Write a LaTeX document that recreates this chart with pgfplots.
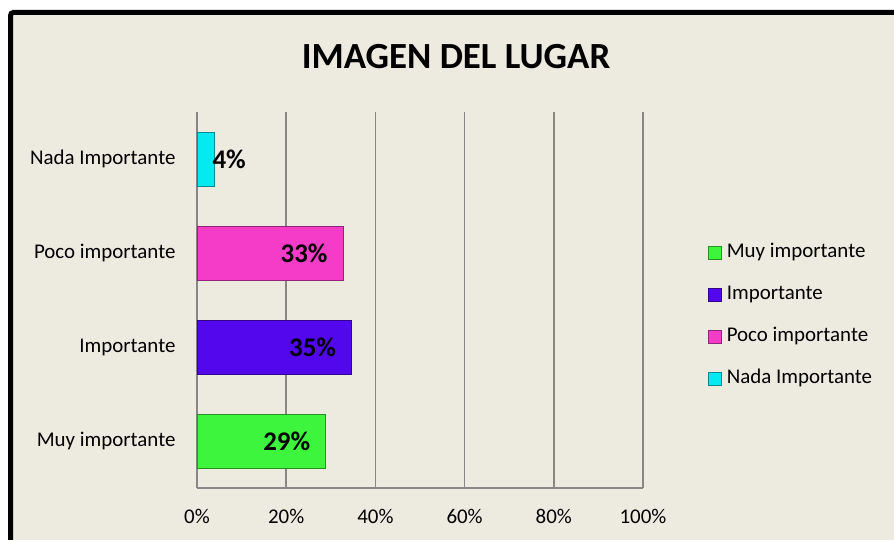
\documentclass[border=0pt]{standalone}
\usepackage{fontspec}
\setmainfont{Carlito}
\usepackage{pgfplots}
\pgfplotsset{compat=1.18}
\definecolor{bg}{HTML}{EDEAE0}
\definecolor{cmuy}{HTML}{3CF53C}
\definecolor{cimp}{HTML}{5207EC}
\definecolor{cpoco}{HTML}{F53CC8}
\definecolor{cnada}{HTML}{05EAF0}
\definecolor{gridc}{HTML}{878787}
\begin{document}
\begin{tikzpicture}
\clip (0,0) rectangle (894bp,540bp);
\fill[white] (0,0) rectangle (894bp,540bp);
\fill[bg] (10.5bp,-10bp) rectangle (904bp,527.5bp);
\draw[line width=5bp, rounded corners=3bp] (10.5bp,-10bp) -- (10.5bp,527.5bp) -- (904bp,527.5bp);
\node[font=\fontsize{37}{41}\selectfont\bfseries, inner sep=0pt] at (456bp,483bp) {IMAGEN DEL LUGAR};
\begin{axis}[
  at={(197bp,52bp)}, anchor=south west,
  scale only axis, width=446bp, height=376bp,
  xmin=0, xmax=100, ymin=-0.5, ymax=3.5,
  xbar, bar width=54bp, bar shift=0pt,
  axis lines=left, axis line style={draw=gridc, line width=1.6bp, -},
  xmajorgrids, grid style={draw=gridc, line width=1.6bp},
  xtick={0,20,40,60,80,100},
  xticklabels={0\%,20\%,40\%,60\%,80\%,100\%},
  ytick={0,1,2,3},
  yticklabels={Muy importante,Importante,Poco importante,Nada Importante},
  major tick length=0pt,
  tick label style={font=\fontsize{21}{25}\selectfont, text=black},
  xticklabel style={yshift=-18bp},
  yticklabel style={xshift=-18bp},
  legend style={at={(1.1457,0.6516)}, anchor=north west, draw=none, fill=none,
    font=\fontsize{21}{25}\selectfont, row sep=23bp, inner sep=0pt,
    nodes={inner sep=0pt, text height=14bp, text depth=5bp},
    /tikz/every odd column/.append style={column sep=5bp}},
  legend cell align=left,
  legend image code/.code={\draw[#1, line width=0.6bp] (0bp,-6.5bp) rectangle (13bp,6.5bp);},
  every node near coord/.append style={font=\fontsize{27}{30}\selectfont\bfseries, text=black},
]
\addplot[fill=cmuy, draw=cmuy!60!black, line width=0.8bp,
  nodes near coords={29\%}, every node near coord/.append style={anchor=east, xshift=-12bp}]
  coordinates {(28.9,0)};
\addplot[fill=cimp, draw=cimp!60!black, line width=0.8bp,
  nodes near coords={35\%}, every node near coord/.append style={anchor=east, xshift=-12bp}]
  coordinates {(34.7,1)};
\addplot[fill=cpoco, draw=cpoco!60!black, line width=0.8bp,
  nodes near coords={33\%}, every node near coord/.append style={anchor=east, xshift=-12bp}]
  coordinates {(32.8,2)};
\addplot[fill=cnada, draw=cnada!60!black, line width=0.8bp,
  nodes near coords={4\%}, every node near coord/.append style={anchor=west, xshift=-6bp}]
  coordinates {(4.0,3)};
\legend{Muy importante,Importante,Poco importante,Nada Importante}
\end{axis}
\end{tikzpicture}
\end{document}
